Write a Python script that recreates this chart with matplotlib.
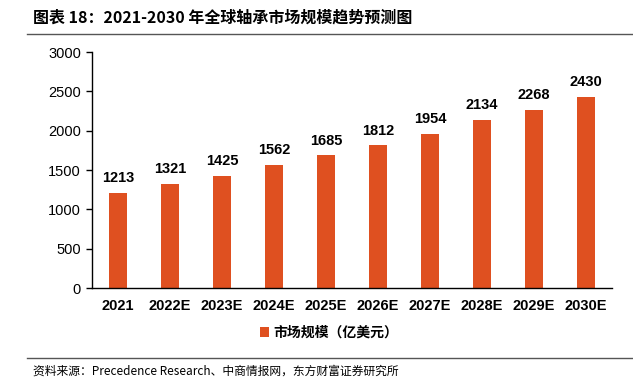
import matplotlib
matplotlib.use("Agg")
import matplotlib.pyplot as plt
from matplotlib.lines import Line2D

plt.rcParams['font.family'] = ['Noto Sans CJK SC', 'DejaVu Sans']

categories = ['2021', '2022E', '2023E', '2024E', '2025E', '2026E', '2027E', '2028E', '2029E', '2030E']
values = [1213, 1321, 1425, 1562, 1685, 1812, 1954, 2134, 2268, 2430]
yticks = [0, 500, 1000, 1500, 2000, 2500, 3000]
series_name = '市场规模（亿美元）'
title = '图表 18：2021-2030 年全球轴承市场规模趋势预测图'
source = '资料来源：Precedence Research、中商情报网，东方财富证券研究所'

W, H = 633, 385
fig = plt.figure(figsize=(W/100, H/100), dpi=100)
ax = fig.add_axes([92/W, 1-288/H, 520/W, 236/H])
color = '#DF5020'
x = list(range(len(categories)))
bars = ax.bar(x, values, width=0.34, color=color, label=series_name)
for xi, v in zip(x, values):
    ax.text(xi, v + 100, str(v), ha='center', va='bottom', fontsize=10.5,
            fontweight='bold', family=['Liberation Sans', 'DejaVu Sans'])
ax.set_xlim(-0.5, len(categories) - 0.5)
ax.set_ylim(0, 3000)
ax.set_yticks(yticks)
ax.set_yticklabels([str(t) for t in yticks], family=['Liberation Sans', 'DejaVu Sans'], fontsize=10.5)
ax.set_xticks(x)
ax.set_xticklabels(categories, family=['Liberation Sans', 'DejaVu Sans'], fontsize=10.5, fontweight='bold')
ax.tick_params(axis='x', length=0, pad=8)
ax.tick_params(axis='y', length=4, width=1, direction='out', pad=4)
for s in ['top', 'right']:
    ax.spines[s].set_visible(False)
ax.spines['left'].set_linewidth(1)
ax.spines['bottom'].set_linewidth(1)

leg = fig.legend(handles=[bars], labels=[series_name], loc='center', bbox_to_anchor=(329/W, 1-333/H),
                 frameon=False, handlelength=0.7, handleheight=0.7, handletextpad=0.3,
                 prop={'family': ['Noto Sans CJK SC'], 'size': 10, 'weight': 'bold'})

fig.text(33/W, 1-18/H, title, ha='left', va='center', fontsize=11.5, fontweight='bold')
fig.add_artist(Line2D([27/W, 1.0], [1-34/H, 1-34/H], color='#555555', lw=1))
fig.add_artist(Line2D([27/W, 1.0], [1-358/H, 1-358/H], color='#555555', lw=1))
fig.text(33/W, 1-371/H, source, ha='left', va='center', fontsize=8.5)

fig.savefig('out.png', dpi=100)
